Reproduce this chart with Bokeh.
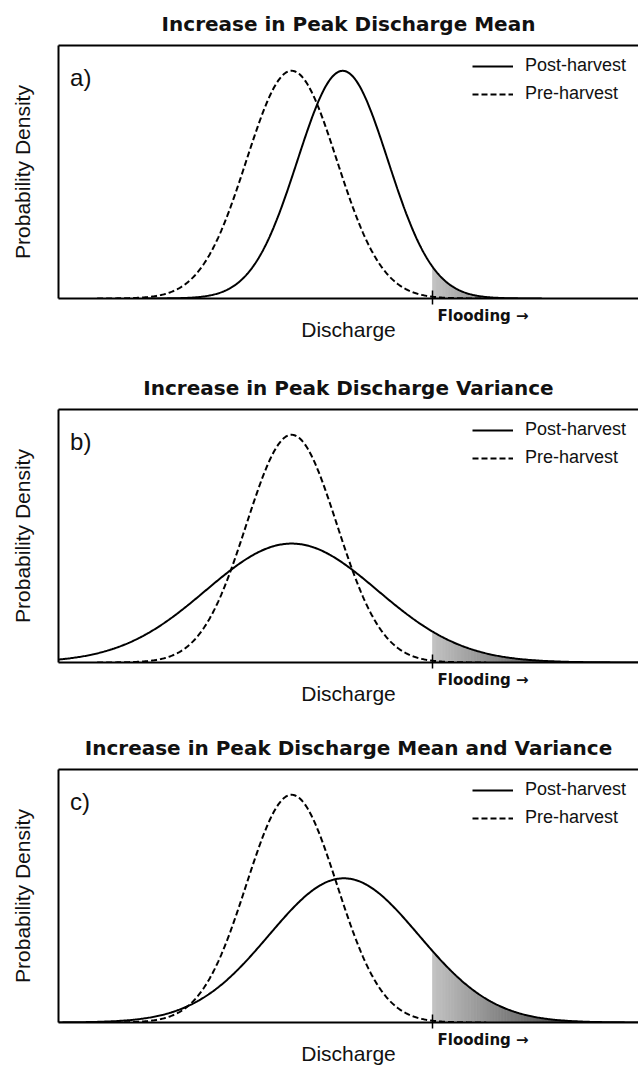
import numpy as np
from bokeh.plotting import figure
from bokeh.models import Label, Legend, LegendItem, LinearAxis, FixedTicker, Range1d
from bokeh.layouts import column
from bokeh.embed import file_html
from bokeh.resources import INLINE

# ---------------- data ----------------
panel_titles = [
    "Increase in Peak Discharge Mean",
    "Increase in Peak Discharge Variance",
    "Increase in Peak Discharge Mean and Variance",
]
panel_tags = ["a)", "b)", "c)"]
series_names = ["Post-harvest", "Pre-harvest"]

# discharge in arbitrary units (0-100 across the box), density relative to box height
pre_mean = [40.2, 40.2, 40.2]
pre_sd = [7.8, 7.8, 7.8]
pre_peak = [0.90, 0.90, 0.90]
post_mean = [49.0, 40.2, 49.2]
post_sd = [7.8, 14.8, 12.9]
post_peak = [0.90, 0.47, 0.57]
flood_threshold = 64.5

x_label = "Discharge"
y_label = "Probability Density"
flood_label = "Flooding \u2192"

# ---------------- layout ----------------
fig_heights = [364, 360, 345]
X0, X1 = 0, 100
SANS = "Liberation Sans"
BOLD = "DejaVu Sans"
TXT = "#111111"


def density(x, m, s, pk):
    return pk * np.exp(-0.5 * ((x - m) / s) ** 2)


figs = []
for i in range(3):
    H = fig_heights[i]
    p = figure(width=638, height=H, x_range=Range1d(X0, X1), y_range=Range1d(0, 1),
               output_backend="svg", toolbar_location=None,
               x_axis_type=None, y_axis_type=None,
               min_border_left=58, min_border_right=0, min_border_top=45,
               min_border_bottom=H - 298)
    p.outline_line_color = None
    p.background_fill_color = "white"
    p.border_fill_color = "white"

    # title
    p.title.text = panel_titles[i]
    p.title.text_font = BOLD
    p.title.text_font_style = "bold"
    p.title.text_font_size = "20px"
    p.title.align = "center"
    p.title.text_color = TXT
    p.title.standoff = 19

    # box lines drawn by axes
    left = LinearAxis(ticker=FixedTicker(ticks=[]), axis_line_width=2,
                      major_tick_line_color=None, minor_tick_line_color=None,
                      major_label_standoff=0,
                      axis_label=y_label, axis_label_text_font=SANS,
                      axis_label_text_font_style="normal",
                      axis_label_text_font_size="21px", axis_label_standoff=25,
                      axis_label_text_color=TXT)
    p.add_layout(left, "left")
    top = LinearAxis(ticker=FixedTicker(ticks=[]), axis_line_width=2,
                     major_tick_line_color=None, minor_tick_line_color=None,
                     major_label_standoff=0)
    p.add_layout(top, "above")

    # bottom: flood threshold as a tick mark, its label placed to the right
    label_x = flood_threshold + 8.7
    bottom = LinearAxis(ticker=FixedTicker(ticks=[label_x], minor_ticks=[flood_threshold]),
                        axis_line_width=2,
                        major_tick_line_color=None, major_tick_in=0, major_tick_out=6,
                        minor_tick_in=8, minor_tick_out=6, minor_tick_line_width=1.5,
                        minor_tick_line_color="black",
                        major_label_overrides={label_x: flood_label},
                        major_label_text_font=BOLD, major_label_text_font_style="bold",
                        major_label_text_font_size="15px", major_label_standoff=2,
                        major_label_text_color=TXT,
                        axis_label=x_label, axis_label_text_font=SANS,
                        axis_label_text_font_style="normal",
                        axis_label_text_font_size="21px", axis_label_standoff=-10,
                        axis_label_text_color=TXT)
    p.add_layout(bottom, "below")

    # gradient shading of the flooding tail under the post-harvest curve
    edges = np.linspace(flood_threshold, X1, 71)
    xs, ys, cols = [], [], []
    for a, b in zip(edges[:-1], edges[1:]):
        xx = np.linspace(a, b, 4)
        yy = density(xx, post_mean[i], post_sd[i], post_peak[i])
        xs.append([a] + list(xx) + [b])
        ys.append([0.0] + list(yy) + [0.0])
        t = min(1.0, (0.5 * (a + b) - flood_threshold) / (95 - flood_threshold))
        g = int(round(195 - 160 * t))
        cols.append("#%02x%02x%02x" % (g, g, g))
    p.patches(xs, ys, fill_color=cols, line_color=cols, line_width=0.8)

    # curves
    xg = np.linspace(max(X0, post_mean[i] - 4.4 * post_sd[i]), min(X1, post_mean[i] + 4.4 * post_sd[i]), 500)
    r_post = p.line(xg, density(xg, post_mean[i], post_sd[i], post_peak[i]),
                    line_color="black", line_width=2)
    xd = np.linspace(max(X0, pre_mean[i] - 4.3 * pre_sd[i]), min(X1, pre_mean[i] + 4.3 * pre_sd[i]), 500)
    r_pre = p.line(xd, density(xd, pre_mean[i], pre_sd[i], pre_peak[i]),
                   line_color="black", line_width=2, line_dash="6 3")

    # legend
    leg = Legend(items=[LegendItem(label=series_names[0], renderers=[r_post]),
                        LegendItem(label=series_names[1], renderers=[r_pre])],
                 location=(414, 194), padding=0, margin=0, spacing=7,
                 glyph_width=41, glyph_height=20, label_height=20, label_standoff=12,
                 label_text_font=SANS, label_text_font_size="18px",
                 label_text_color=TXT,
                 border_line_color=None, background_fill_alpha=0)
    p.add_layout(leg)

    # panel tag
    p.add_layout(Label(x=2.0, y=0.873, text=panel_tags[i], text_font=SANS,
                       text_font_size="24px", text_baseline="middle",
                       text_color=TXT))
    figs.append(p)

layout = column(*figs, spacing=0)
open("out.html", "w").write(file_html(layout, INLINE))
